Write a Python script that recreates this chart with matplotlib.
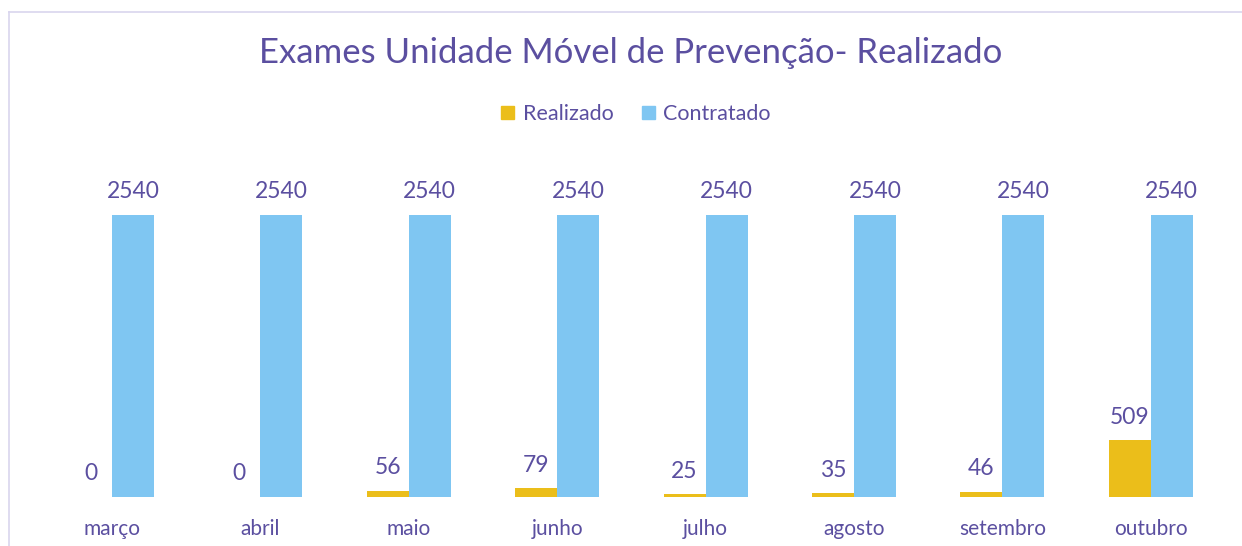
import matplotlib.pyplot as plt
from matplotlib.lines import Line2D
from matplotlib.patches import Patch
import numpy as np

# data
meses = ['março', 'abril', 'maio', 'junho', 'julho', 'agosto', 'setembro', 'outubro']
realizado = [0, 0, 56, 79, 25, 35, 46, 509]
contratado = [2540, 2540, 2540, 2540, 2540, 2540, 2540, 2540]

txt = '#5B4FA0'
c_real = '#EBBE1A'
c_cont = '#7FC6F2'
plt.rcParams['font.family'] = ['Lato', 'DejaVu Sans']

fig = plt.figure(figsize=(12.42, 5.46), dpi=100)
ax = fig.add_axes([37.75 / 1242, 1 - 497 / 546, 1187.25 / 1242, 322 / 546])

x = np.arange(len(meses))
w = 0.283
b1 = ax.bar(x - w / 2, realizado, w, color=c_real, label='Realizado')
b2 = ax.bar(x + w / 2, contratado, w, color=c_cont, label='Contratado')

for bars, vals in ((b1, realizado), (b2, contratado)):
    for r, v in zip(bars, vals):
        ax.annotate(str(v), (r.get_x() + r.get_width() / 2, v), xytext=(0, 9),
                    textcoords='offset points', ha='center', va='bottom',
                    fontsize=16.5, color=txt)

ax.set_xlim(-0.5, len(meses) - 0.5)
ax.set_ylim(0, 2540 * 322 / 282)
ax.set_xticks(x)
ax.set_xticklabels(meses, fontsize=15, color=txt)
ax.tick_params(axis='x', length=0, pad=16)
ax.set_yticks([])
for s in ax.spines.values():
    s.set_visible(False)

fig.text(631 / 1242, 1 - 53 / 546, 'Exames Unidade Móvel de Prevenção- Realizado',
         ha='center', va='center', fontsize=25, color=txt)

handles = [Patch(color=c_real), Patch(color=c_cont)]
fig.legend(handles, ['Realizado', 'Contratado'], loc='center',
           bbox_to_anchor=(636 / 1242, 1 - 114 / 546), ncol=2, frameon=False,
           fontsize=15.5, labelcolor=txt, handlelength=0.6, handleheight=0.6,
           handletextpad=0.4, columnspacing=1.3)

# chart frame lines
border = '#D9D5EE'
fig.add_artist(Line2D([8.5 / 1242, 1], [1 - 12 / 546, 1 - 12 / 546], color=border, lw=1.2))
fig.add_artist(Line2D([8.5 / 1242, 8.5 / 1242], [0, 1 - 12 / 546], color=border, lw=1.2))

fig.savefig('out.png', dpi=100)
